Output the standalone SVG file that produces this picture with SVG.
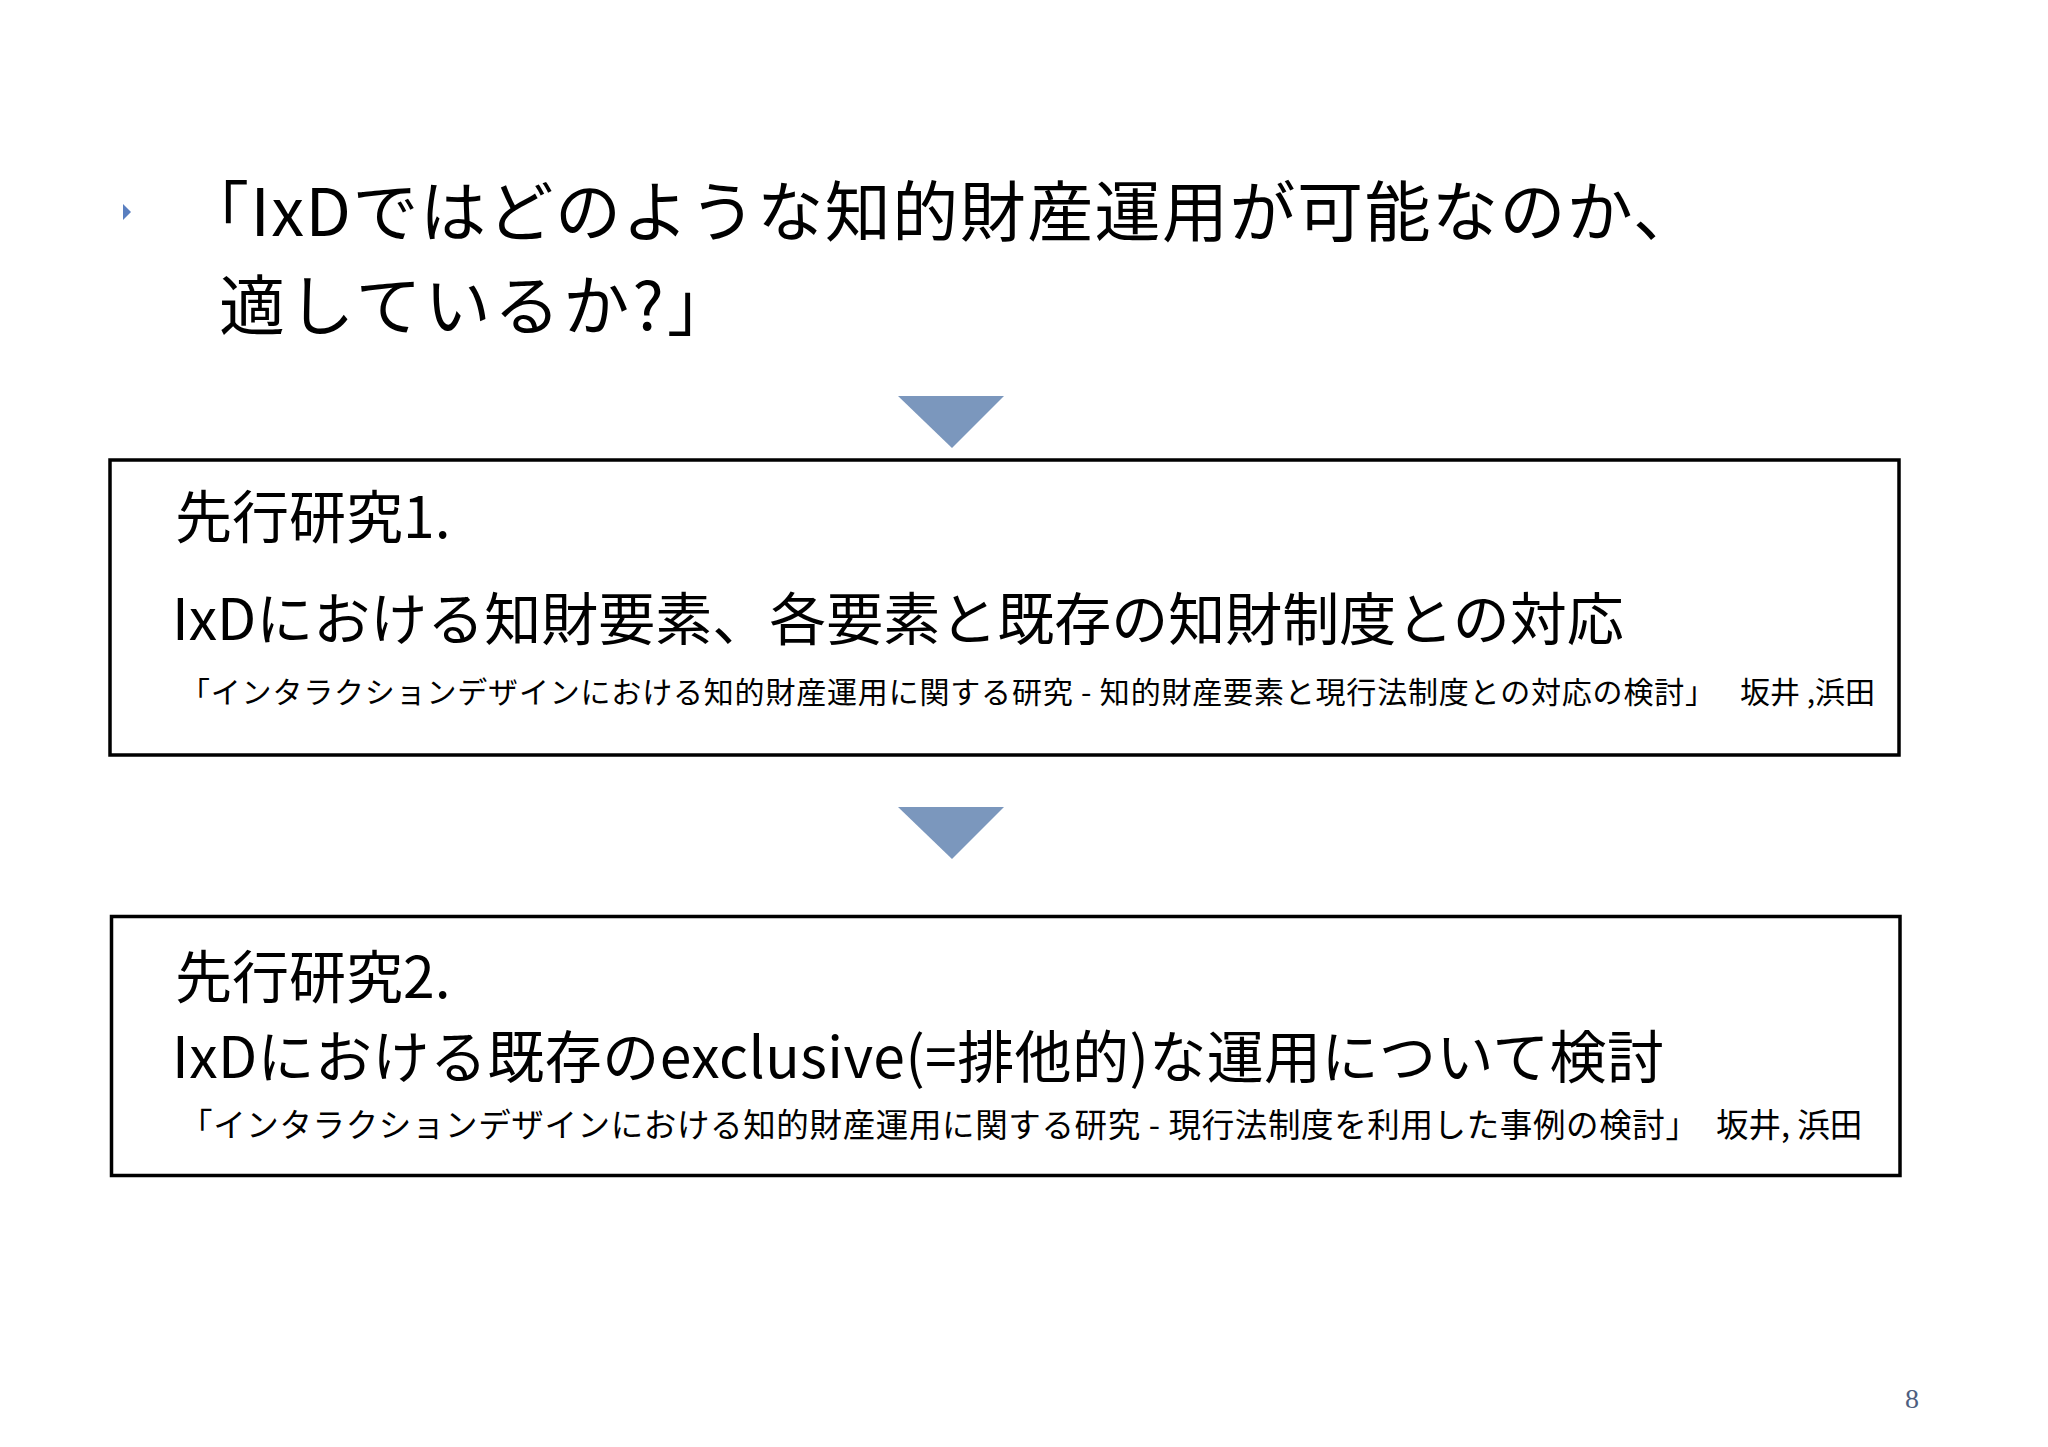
<svg xmlns="http://www.w3.org/2000/svg" width="2048" height="1447" viewBox="0 0 2048 1447">
  <style>
    .jp { font-family: "Noto Sans CJK JP", "Noto Sans", sans-serif; fill: #000; }
    .title { font-size: 66px; }
    .head { font-size: 57px; }
    .cite1 { font-size: 30px; }
    .cite2 { font-size: 32.5px; }
    .box { fill: #fff; stroke: #000; stroke-width: 3.5; }
    .arrow { fill: #7b97bd; }
    .pg { font-family: "Liberation Serif", serif; font-size: 28px; fill: #4e5f80; }
  </style>
  <rect width="2048" height="1447" fill="#fff"/>

  <g id="title">
    <polygon points="123,204 131,212 123,220" fill="#5a7fc0"/>
    <text class="jp title" x="183" y="236" textLength="1516" lengthAdjust="spacing">「IxDではどのような知的財産運用が可能なのか、</text>
    <text class="jp title" x="219" y="330" textLength="514" lengthAdjust="spacing">適しているか?」</text>
  </g>

  <g id="connectors">
    <polygon class="arrow" points="898,396 1004,396 952,448"/>
    <polygon class="arrow" points="898,807 1004,807 952,859"/>
  </g>

  <g id="study1">
    <rect class="box" x="110" y="460" width="1789" height="295"/>
    <text class="jp head" x="175" y="538">先行研究1.</text>
    <text class="jp head" x="172" y="640">IxDにおける知財要素、各要素と既存の知財制度との対応</text>
    <text class="jp cite1" y="703"><tspan x="180" textLength="1535" lengthAdjust="spacing">「インタラクションデザインにおける知的財産運用に関する研究 - 知的財産要素と現行法制度との対応の検討」</tspan><tspan x="1740">坂井 ,浜田</tspan></text>
  </g>

  <g id="study2">
    <rect class="box" x="111.5" y="916.5" width="1788.5" height="259"/>
    <text class="jp head" x="175" y="998">先行研究2.</text>
    <text class="jp head" x="172" y="1078" textLength="1492" lengthAdjust="spacing">IxDにおける既存のexclusive(=排他的)な運用について検討</text>
    <text class="jp cite2" y="1137"><tspan x="180" textLength="1518" lengthAdjust="spacing">「インタラクションデザインにおける知的財産運用に関する研究 - 現行法制度を利用した事例の検討」</tspan><tspan x="1716">坂井, 浜田</tspan></text>
  </g>

  <text class="pg" x="1912" y="1408" text-anchor="middle">8</text>
</svg>
